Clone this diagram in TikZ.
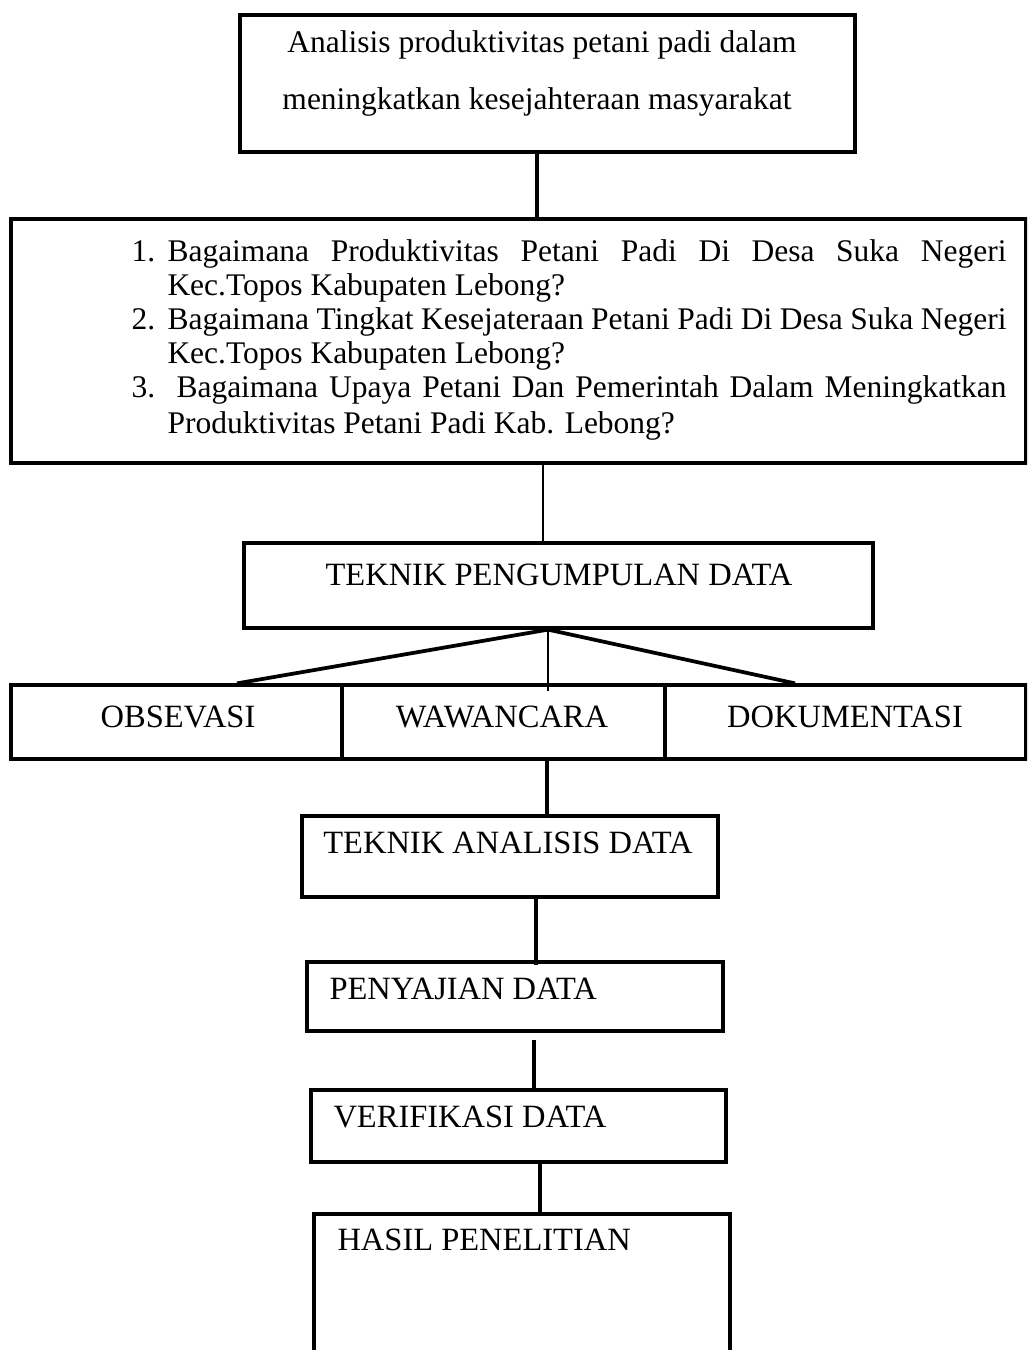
\documentclass[tikz,border=0pt]{standalone}
\usepackage{fontspec}
\setmainfont{Liberation Serif}
\usetikzlibrary{calc,positioning}
\tikzset{
    kotak/.style={
           rectangle,
           draw=black, line width=1.3pt,
           inner sep=0pt},
    teks/.style={
           inner sep=0pt,
           font=\fontsize{12.6pt}{15pt}\selectfont},
    label/.style={
           teks,
           font=\fontsize{13pt}{15pt}\selectfont},
    garis/.style={
           line width=1.5pt},
    tipis/.style={
           line width=0.8pt}
}

\begin{document}
\begin{tikzpicture}[x=0.4pt,y=-0.4pt]
          \def \lebar {335.6pt}
          \useasboundingbox (0,0) rectangle (1027,1350);
          \clip (0,0) rectangle (1027,1350);
          % kotak-kotak
          \node[kotak, minimum width=246pt, minimum height=54.8pt](judul) at (547.5,83.5) {};
          \node[kotak, minimum width=406pt, minimum height=97.6pt](rumusan) at (518.5,341) {};
          \node[kotak, minimum width=251.6pt, minimum height=34pt](tpd) at (558.5,585.5) {};
          \node[kotak, minimum width=132.4pt, minimum height=29.6pt](obs) at (176.5,722) {};
          \node[kotak, minimum width=129.2pt, minimum height=29.6pt](waw) at (503.5,722) {};
          \node[kotak, minimum width=144.4pt, minimum height=29.6pt](dok) at (845.5,722) {};
          \node[kotak, minimum width=166.4pt, minimum height=32.4pt](tad) at (510,856.5) {};
          \node[kotak, minimum width=166.4pt, minimum height=27.6pt](saji) at (515,996.5) {};
          \node[kotak, minimum width=166pt, minimum height=28.8pt](verif) at (518.5,1126) {};
          \node[kotak, minimum width=166.4pt, minimum height=74.4pt](hasil) at (522,1307) {};
          % teks
          \node[teks, anchor=base](judul-a) at (542,53) {Analisis produktivitas petani padi dalam};
          \node[teks, anchor=base](judul-b) at (537,110) {meningkatkan kesejahteraan masyarakat};
          \node[teks, anchor=base west](no-1) at (131,262) {1.};
          \node[teks, anchor=base west](q1-a) at (167,262) {\makebox[\lebar][s]{Bagaimana Produktivitas Petani Padi Di Desa Suka Negeri}};
          \node[teks, anchor=base west](q1-b) at (167,296) {Kec.Topos Kabupaten Lebong?};
          \node[teks, anchor=base west](no-2) at (131,330) {2.};
          \node[teks, anchor=base west](q2-a) at (167,330) {\makebox[\lebar][s]{Bagaimana Tingkat Kesejateraan Petani Padi Di Desa Suka Negeri}};
          \node[teks, anchor=base west](q2-b) at (167,364) {Kec.Topos Kabupaten Lebong?};
          \node[teks, anchor=base west](no-3) at (131,398) {3.};
          \node[teks, anchor=base west](q3-a) at (176,398) {\makebox[332pt][s]{Bagaimana Upaya Petani Dan Pemerintah Dalam Meningkatkan}};
          \node[teks, anchor=base west](q3-b) at (167,433) {Produktivitas Petani Padi Kab. Lebong?};
          \node[label, anchor=base](tpd-t) at (559,585) {TEKNIK PENGUMPULAN DATA};
          \node[label, anchor=base](obs-t) at (178,727) {OBSEVASI};
          \node[label, anchor=base](waw-t) at (502,727) {WAWANCARA};
          \node[label, anchor=base](dok-t) at (845,727) {DOKUMENTASI};
          \node[label, anchor=base](tad-t) at (508,853) {TEKNIK ANALISIS DATA};
          \node[label, anchor=base west](saji-t) at (329,999) {PENYAJIAN DATA};
          \node[label, anchor=base west](verif-t) at (333,1127) {VERIFIKASI DATA};
          \node[label, anchor=base west](hasil-t) at (337,1250) {HASIL PENELITIAN};
          % garis
          \coordinate (x1) at (537,0);
          \coordinate (x2) at (543,0);
          \coordinate (x3) at (548,0);
          \coordinate (xa) at (237,0);
          \coordinate (xc) at (795,0);
          \coordinate (x4) at (547,0);
          \coordinate (x5) at (536,0);
          \coordinate (x6) at (534,0);
          \coordinate (x7) at (540,0);
          \draw[garis] (judul.south -| x1) -- (rumusan.north -| x1);
          \draw[tipis] (rumusan.south -| x2) -- (tpd.north -| x2);
          \draw[garis] (tpd.south -| x3) -- (obs.north -| xa);
          \draw[tipis] (tpd.south -| x3) -- ($(waw.north -| x3)+(0,8)$);
          \draw[garis] (tpd.south -| x3) -- (dok.north -| xc);
          \draw[garis] (waw.south -| x4) -- (tad.north -| x4);
          \draw[garis] (tad.south -| x5) -- ($(saji.north -| x5)+(0,5)$);
          \draw[garis] ($(saji.south -| x6)+(0,7)$) -- (verif.north -| x6);
          \draw[garis] (verif.south -| x7) -- (hasil.north -| x7);
\end{tikzpicture}
\end{document}
